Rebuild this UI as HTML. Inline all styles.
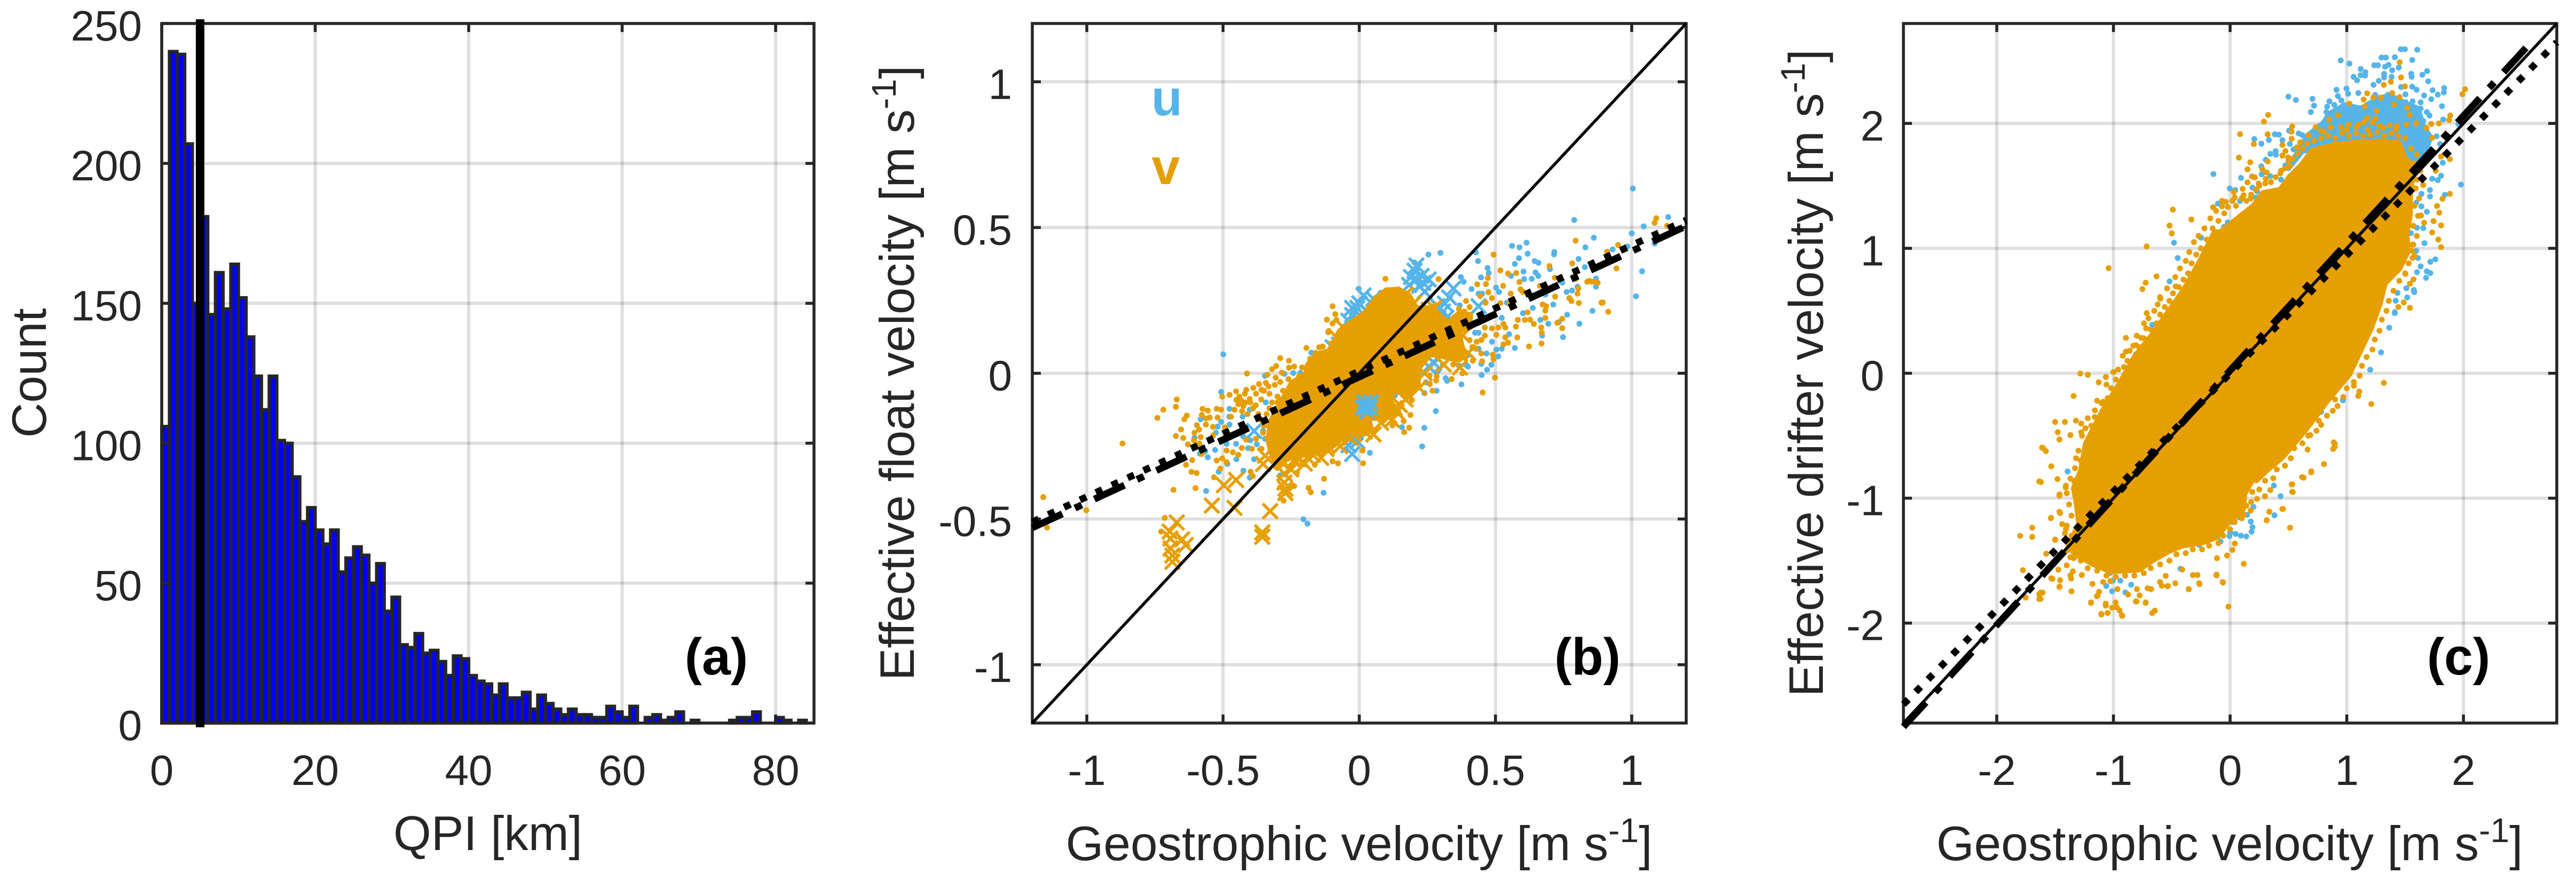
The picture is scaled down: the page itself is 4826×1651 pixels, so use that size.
<!DOCTYPE html>
<html lang="en">
<head>
<meta charset="utf-8">
<title>QPI histogram and velocity scatter plots</title>
<style>
html,body{margin:0;padding:0;background:#fff;}
svg{display:block;position:absolute;left:0;top:0;}
text{font-family:"Liberation Sans",Arial,sans-serif;fill:#262626;}
.lab{font-size:91px;}
.sup{font-size:64px;}
.tick{font-size:80px;}
.pl{font-size:97px;font-weight:bold;fill:#000;text-anchor:middle;}
</style>
</head>
<body>
<svg id="fig" xmlns="http://www.w3.org/2000/svg" width="4826" height="1651" viewBox="0 0 4826 1651">
<rect width="4826" height="1651" fill="#fff"/>
<g id="panelA"></g>
<g id="panelB"></g>
<g id="panelC"></g>
<text class="lab" transform="translate(86,699) rotate(-90)" text-anchor="middle">Count</text>
<text class="lab" x="914" y="1593" text-anchor="middle">QPI [km]</text>
<text class="pl" x="1342" y="1264">(a)</text>
<text class="lab" transform="translate(1712,699) rotate(-90)" text-anchor="middle">Effective float velocity [m s<tspan class="sup" dy="-34">-1</tspan><tspan dy="34">]</tspan></text>
<text class="lab" x="2546" y="1612" text-anchor="middle">Geostrophic velocity [m s<tspan class="sup" dy="-34">-1</tspan><tspan dy="34">]</tspan></text>
<text class="pl" x="2974" y="1264">(b)</text>
<text x="2186" y="216" style="font-size:95px;font-weight:bold;fill:#56B4E9" text-anchor="middle">u</text>
<text x="2184" y="345" style="font-size:95px;font-weight:bold;fill:#E69F00" text-anchor="middle">v</text>
<text class="lab" transform="translate(3415,699) rotate(-90)" text-anchor="middle">Effective drifter velocity [m s<tspan class="sup" dy="-34">-1</tspan><tspan dy="34">]</tspan></text>
<text class="lab" x="4177" y="1612" text-anchor="middle">Geostrophic velocity [m s<tspan class="sup" dy="-34">-1</tspan><tspan dy="34">]</tspan></text>
<text class="pl" x="4606" y="1264">(c)</text>
</svg>
<script>
// ---------- Panel (a) data ----------
const qpiCounts = [106,240,239,207,150,181,146,161,148,164,152,138,124,112,124,101,100,88,72,77,69,64,69,54,59,63,60,50,57,40,45,28,27,32,25,26,22,17,24,23,17,15,14,10,14,9,9,11,5,10,7,5,3,5,3,3,2,2,6,4,2,6,0,2,3,1,2,4,0,1,0,0,0,0,1,2,2,4,0,0,2,1,0,1,0];
const qpiBinWidth = 1;
const qpiThreshold = 5;
const aXTicks = [0,20,40,60,80];
const aYTicks = [0,50,100,150,200,250];

// ---------- Panel (b) data ----------
const bXTicks = [-1,-0.5,0,0.5,1];
const bYTicks = [-1,-0.5,0,0.5,1];
const bUnityX = [-1.2,1.2];
const bUnityY = [-1.2,1.2];
const bDotFitX = [-1.2,1.2];
const bDotFitY = [-0.51,0.525];
const bDashFitX = [-1.2,1.2];
const bDashFitY = [-0.53,0.505];
const bBlueDots = [[.789,.526],[.861,.465],[.830,.432],[.614,.448],[.561,.437],[.588,.432],[.618,.410],[.586,.395],[.571,.375],[.644,.385],[.658,.379],[.716,.416],[.715,.408],[.805,.392],[.828,.364],[.700,.357],[.603,.349],[.647,.346],[.657,.334],[.557,.334],[.605,.323],[.633,.324],[.447,.329],[.471,.361],[.475,.344],[.436,.385],[.428,.415],[.254,.407],[.298,.413],[.203,.380],[.373,.330],[.383,.314],[.412,.289],[.502,.294],[.513,.279],[.438,.273],[.451,.273],[.869,.325],[.869,.297],[.745,.311],[.761,.279],[.781,.284],[.801,.297],[.712,.236],[.683,.270],[.637,.224],[.601,.206],[.542,.242],[.763,.201],[.856,.214],[.808,.170],[.694,.170],[.665,.183],[.748,.124],[.671,.129],[.571,.087],[.550,.134],[.523,.190],[.487,.108],[.503,.081],[.523,.084],[.510,.058],[.485,.029],[.469,.012],[.449,-.006],[.448,.032],[.399,.023],[.392,.029],[.366,.026],[.399,.062],[.438,.084],[.467,.068],[.317,-.017],[.322,-.026],[.375,-.038],[.281,-.130],[.239,-.187],[.157,-.185],[.231,-.251],[.245,-.031],[.284,-.060],[.239,-.068],[.288,.007],[.307,.029],[.369,.233],[.078,.276],[-.002,.290],[.438,.139],[.425,.139],[.732,.175],
[-.499,.065],[-.507,-.064],[-.476,-.122],[-.582,-.158],[-.507,-.167],[-.476,-.176],[-.520,-.183],[-.526,-.204],[-.605,-.222],[-.580,-.253],[-.565,-.268],[-.585,-.276],[-.556,-.288],[-.529,-.263],[-.487,-.242],[-.452,-.242],[-.426,-.217],[-.400,-.230],[-.376,-.244],[-.346,-.225],[-.353,-.198],[-.408,-.257],[-.386,-.295],[-.425,-.334],[-.402,-.358],[-.516,-.338],[-.484,-.311],[-.451,-.295],[-.562,-.404],[-.290,-.350],[-.205,-.501],[-.190,-.516],[-.131,-.410],[.039,-.273],[-.176,.071],[-.180,.042],[-.242,.001],[-.216,.001],[-.275,-.002],[-.346,-.009],[-.477,-.149],[-.428,-.149],[-.402,-.125],[-.343,-.100],[.131,-.076],
[1.134,.536],[1.004,.634],[1.044,.504],[1.0,.480],[.984,.435],[.93,.425],[1.084,.445],[1.038,.350],[1.016,.264]];
const bOrangeDots = [[-.869,-.241],[-.741,-.153],[-.719,-.125],[-.673,-.115],[-.670,-.090],[-.642,-.158],[-.633,-.145],[-.654,-.193],[-.673,-.215],[-.646,-.222],[-.682,-.400],[-.601,-.394],[-.616,-.338],[-.597,-.342],[-.636,-.314],[-.613,-.298],[-.629,-.244],[-.605,-.204],[-.607,-.230],[-.587,-.241],[-.582,-.219],[-.596,-.178],[-.588,-.193],[-.578,-.277],[-.533,-.357],[-.575,-.122],[-.556,-.128],[-.523,-.122],[-.507,-.125],[-.578,-.143],[-.562,-.155],[-.549,-.152],[-.563,-.176],[-.520,-.152],[-.537,-.184],[-.503,-.080],[-.476,-.074],[-.452,-.062],[-.415,-.057],[-.412,-.001],[-.389,-.050],[-.368,-.037],[-.343,-.033],[-.320,.014],[-.305,.025],[-.290,.052],[-.258,.043],[-.239,.023],[-.258,.019],[-.284,.002],[-.337,-.005],[-.194,.087],[-.147,.089],[-.134,.092],[-.114,.141],[-.433,-.094],[-.451,-.091],[-.418,-.100],[-.402,-.088],[-.458,-.125],[-.444,-.106],[-.471,-.149],[-.425,-.112],[-.379,-.070],[-.359,-.057],[-.333,-.045],[-.307,-.015],[-.536,-.213],[-.493,-.186],[-.415,-.228],[-.379,-.225],[-.431,-.256],[-.394,-.259],[-.359,-.259],[-.353,-.204],[-.487,-.265],[-.464,-.271],[-.444,-.280],[-.523,-.299],[-.487,-.305],[-.503,-.292],[-.510,-.327],[-.399,-.338],[-.391,-.353],[-.278,-.437],[-.186,-.393],[-.178,-.408],[-.129,-.362],[.012,-.265],[.014,-.309],[.122,-.178],[-.239,-.387],[-.714,-.496],[-.727,-.543],[-.229,-.341],[-.163,-.314],[-.098,-.302],[-.078,-.309],
[-.44,-.08],[-.42,-.07],[-.40,-.10],[-.38,-.11],[-.36,-.09],[-.35,-.06],[-.33,-.07],[-.31,-.04],[-.29,-.03],[-.28,-.06],[-.26,-.02],[-.41,-.14],[-.39,-.12],[-.43,-.13],[-.30,-.08],[-.32,-.10],
[-.30,-.10],[-.28,-.12],[-.31,-.13],[-.34,-.14],[-.33,-.12],[-.30,-.15],[-.27,-.08],[-.25,-.05],[-.24,-.03],[-.22,-.01],[-.21,.02],[-.18,.05],[-.16,.07],[-.37,-.14],[-.36,-.16],[-.35,-.18],
[.794,.455],[.493,.407],[.698,.368],[.782,.377],[.518,.353],[.546,.342],[.576,.344],[.472,.327],[.433,.305],[.465,.306],[.528,.300],[.718,.328],[.794,.324],[.588,.313],[.592,.288],[.601,.279],[.663,.300],[.804,.291],[.801,.273],[.771,.258],[.779,.248],[.806,.241],[.837,.314],[.854,.314],[.875,.310],[.889,.242],[.719,.263],[.673,.236],[.686,.230],[.683,.215],[.683,.190],[.745,.187],[.727,.173],[.745,.155],[.641,.169],[.627,.184],[.608,.183],[.618,.209],[.582,.183],[.575,.160],[.580,.123],[.623,.092],[.669,.102],[.670,.139],[.668,.157],[.556,.273],[.518,.241],[.551,.239],[.487,.258],[.474,.278],[.444,.265],[.392,.248],[.405,.227],[.464,.242],[.366,.221],[.386,.212],[.366,.187],[.529,.169],[.510,.157],[.536,.157],[.487,.154],[.461,.157],[.503,.132],[.536,.123],[.461,.129],[.448,.114],[.431,.108],[.405,.114],[.415,.090],[.428,.084],[.546,.105],[.529,.099],[.448,.068],[.490,.064],[.493,.048],[.417,.043],[.451,.041],[.389,.053],[.366,.047],[.345,.030],[.498,-.015],[.379,.000],[.339,-.020],[.453,-.066],[.258,-.008],[.284,-.011],[.282,-.025],[.259,-.037],[.269,-.060],[.193,-.092],[.188,-.143],[.163,-.164],[.122,-.179],[.183,-.187],[.165,-.202],[.291,.323],[.096,.324],[-.098,.230],[-.088,.203],[-.119,.184],[-.084,.183],[-.098,.171],[-.112,.145],
[1.09,.532],[1.084,.516],[1.13,.506],[.95,.44],[.91,.417],[.944,.36],[.894,.243],[.914,.211],[.868,.313],[.844,.317],[-1.16,-.425],[-1.002,-.47],[-1.146,-.529]];
const bBlueCrosses = [[.203,.352],[.229,.334],[.235,.310],[.209,.322],[.255,.322],[.183,.303],[.016,.267],[-.026,.224],[-.026,.200],[-.007,.187],[.020,.181],[-.007,.224],[.052,.255],[.346,.291],[.314,.239],[.307,.212],[.288,.230],[.438,.230],[.275,.035],[.255,.023],[-.033,-.191],[-.013,-.203],[-.052,-.216],[-.026,-.277],[-.039,-.247],[-.007,-.234],[-.088,.080],[-.098,.089],[-.075,.098],[-.386,-.198],[.22,.30],[.19,.33],[.24,.28],[.21,.37],[.00,.24],[-.04,.18],[-.01,.15],[.03,.21],[.03,.15],[.32,.19],[.29,.19],[.33,.26]];
const bBlueCrossesTop = [[.026,-.115],[.042,-.100],[.026,-.112],[.013,-.118],[.039,-.118],[.03,-.13],[.02,-.10]];
const bOrangeCrosses = [[-.670,-.512],[-.696,-.543],[-.693,-.567],[-.650,-.570],[-.637,-.589],[-.693,-.601],[-.686,-.625],[-.686,-.647],[-.497,-.384],[-.452,-.366],[-.541,-.454],[-.458,-.462],[-.327,-.473],[-.356,-.546],[-.356,-.561],[-.353,-.311],[-.346,-.283],[-.275,-.375],[-.271,-.396],[-.271,-.411],[-.275,-.344],[-.222,-.295],[-.190,-.289],[-.118,-.247],[-.033,-.222],[.052,-.210],[.098,-.143],[.124,.267],[.098,.212],[-.052,.151],[.137,-.133],[.111,-.148],[.052,-.209],[-.085,.084],[.150,.255],[.255,.218],[.275,.224],
[.08,.24],[.02,.17],[-.03,.13],[-.08,.12],[.17,.27],[.20,.24],[.33,.15],[.38,.13],[.40,.07],[.37,.02],[.31,.03],[.24,.0],[.22,-.05],[.17,-.09],[.13,-.12],[.08,-.17],[.02,-.2],[-.02,-.21],[-.07,-.25],[-.12,-.26],[-.17,-.28],[-.24,-.30],[-.29,-.30],[-.31,-.25],[-.32,-.2],[-.28,-.1],[-.23,-.06],[-.2,-.03],[.12,-.16],[.15,-.11],[-.20,-.31],[-.14,-.29],[-.25,-.33]];
const bOrangeDense = [[-.327,-.167],[-.248,-.033],[-.196,-.002],[-.190,.028],[-.157,.065],[-.111,.077],[-.072,.145],[-.039,.169],[.020,.206],[.059,.255],[.098,.285],[.144,.288],[.183,.267],[.209,.224],[.255,.224],[.288,.200],[.327,.175],[.366,.206],[.408,.200],[.405,.157],[.366,.145],[.373,.108],[.386,.059],[.353,.047],[.301,.059],[.261,.065],[.216,.016],[.216,-.038],[.183,-.081],[.131,-.057],[.111,-.093],[.144,-.130],[.092,-.154],[.033,-.154],[.046,-.197],[.013,-.209],[-.033,-.198],[-.092,-.247],[-.144,-.271],[-.222,-.283],[-.268,-.295],[-.301,-.326],[-.327,-.259],[-.333,-.234]];

// ---------- Panel (c) data ----------
const cXTicks = [-2,-1,0,1,2];
const cYTicks = [-2,-1,0,1,2];
const cUnityX = [-2.8,2.8];
const cUnityY = [-2.8,2.8];
const cDotFitX = [-2.8,2.8];
const cDotFitY = [-2.65,2.65];
const cDashFitX = [-2.8,2.56];
const cDashFitY = [-2.83,2.63];
const cBlueDense = [[.802,2.006],[.848,2.077],[.985,2.148],[1.122,2.120],[1.274,2.205],[1.381,2.219],[1.503,2.162],[1.610,2.120],[1.655,1.977],[1.716,1.892],[1.655,1.70],[1.534,1.70],[1.351,1.75],[1.046,1.75],[.832,1.80],[.62,1.78],[.50,1.64],[.66,1.90]];
const cBlueDots = [[1.463,2.594],[1.498,2.594],[1.604,2.590],[1.412,2.530],[1.297,2.527],[1.335,2.527],[1.561,2.508],[.948,2.504],[1.023,2.479],[1.236,2.466],[1.267,2.466],[1.328,2.454],[1.358,2.469],[1.445,2.447],[1.389,2.426],[1.119,2.436],[1.160,2.409],[1.119,2.386],[1.058,2.373],[1.088,2.345],[1.157,2.383],[1.320,2.397],[1.320,2.368],[1.384,2.373],[1.553,2.397],[1.556,2.373],[1.648,2.390],[1.689,2.419],[1.698,2.337],[1.274,2.341],[1.229,2.309],[1.465,2.291],[1.561,2.294],[1.598,2.269],[1.735,2.266],[1.835,2.283],[1.832,2.248],[1.780,2.231],[1.663,2.224],[1.724,2.194],[1.816,2.138],[.912,2.269],[.997,2.279],[1.012,2.238],[1.099,2.243],[.500,2.214],[.564,2.188],[.706,2.197],[.719,2.142],[.692,2.091],[.924,2.219],[.851,2.177],[.832,2.134],[.825,2.091],[.893,2.148],[.954,2.184],[1.244,2.228],[1.351,2.228],[1.503,2.233],[1.633,2.169],[1.633,2.119],[1.686,2.091],[1.709,2.063],[1.655,2.020],[1.826,2.031],[1.957,1.996],[1.595,2.027],[1.564,2.177],[1.503,2.170],
[.588,1.920],[.619,1.906],[.383,1.913],[.418,1.910],[.207,1.875],[.268,1.838],[.332,1.868],[.448,1.866],[.390,1.778],[.345,1.756],[.393,1.749],[.306,1.709],[.268,1.657],[.271,1.593],[.093,1.564],[-.143,1.595],[-.003,1.479],[.044,1.467],[.192,1.486],[.230,1.457],[-.105,1.358],[.505,1.942],[.512,1.835],[.543,1.792],[.566,1.735],[.474,1.664],[.345,1.578],[.436,1.550],[.223,1.407],[.085,1.379],[-.052,1.172],[-.120,1.122],[-.021,1.208],
[1.854,1.892],[1.770,1.897],[1.694,1.869],[1.800,1.835],[1.823,1.685],[1.808,1.581],[1.780,1.546],[1.732,1.557],[1.979,1.510],[1.713,1.467],[1.713,1.415],[1.640,1.436],[1.595,1.365],[1.640,1.336],[1.686,1.293],[1.841,1.429],[1.655,1.162],[1.602,1.165],[1.666,1.041],[1.716,.892],[1.759,.912],[1.633,.856],[1.602,.809],[1.686,.816],[1.716,.802],[1.680,.764],[1.579,.650],[1.518,.607],[1.610,.923],[1.595,.980],[1.549,1.122],[1.511,.681],[1.419,.581],[1.412,.489],
[1.575,.667],[1.435,.643],[1.411,.481],[1.364,.365],[1.294,.167],[1.201,.028],[1.037,.039],[.967,-.216],[.780,-.309],
[-.481,1.045],[-.449,.922],[-.248,1.085],[-.519,.736],[-.374,.667],[-.668,.388],[-.808,.151],[-.832,.109],[-.925,-.077],
[.024,-1.190],[.078,-1.154],[.146,-1.133],[.177,-1.187],[.192,-1.232],[.184,-1.268],[.139,-1.306],[.093,-1.300],[.047,-1.286],[.002,-1.275],[-.006,-1.303],[.200,-1.069],[.433,-.984],[.380,-1.137],[.375,-.899],[-.082,-1.346],[-.265,-1.374],[-.509,-1.416],[-.425,-1.565],[-.848,-1.693],[-1.005,-1.660],[-.941,-1.660],[-1.061,-1.703],[-1.012,-1.745],[-.898,-1.754],[-1.027,-1.598],[-1.149,-1.537],[-1.393,-.786]];
const cOrangeDots = [[1.453,2.490],[1.465,2.368],[1.378,2.333],[1.317,2.309],[1.498,2.296],[1.389,2.243],[1.175,2.241],[1.229,2.209],[1.293,2.205],[1.453,2.211],[1.145,2.191],[1.023,2.158],[1.155,2.136],[1.405,2.152],[1.518,2.126],[1.255,2.100],[1.538,2.068],[.924,2.065],[1.175,2.044],[1.244,2.037],[.848,2.030],[1.145,2.008],[1.221,2.006],[1.595,2.001],[1.511,1.991],[1.724,1.996],[1.790,2.000],[1.877,2.027],[1.887,2.063],[2.014,2.274],[1.991,2.234],[.326,2.068],[.290,2.014],[.532,1.977],[.085,1.914],[.322,1.913],[.203,1.835],[.527,1.934],[.672,1.906],[.733,1.970],[.802,1.934],[.863,1.970],[1.015,1.991],[1.084,1.970],[1.312,1.966],[1.369,1.984],[1.431,1.980],[1.683,1.963],[1.732,1.885],[.527,1.877],[.601,1.849],[.573,1.809],[.448,1.828],[.474,1.778],[.448,1.742],[.497,1.728],[.075,1.726],[.322,1.696],[.172,1.689],[.276,1.635],[.314,1.607],[.149,1.632],[.188,1.575],[.212,1.568],[.306,1.557],[.149,1.528],[.245,1.518],[.108,1.476],[.032,1.450],[.040,1.407],[.116,1.425],[.177,1.400],[-.037,1.372],[-.070,1.336],[-.146,1.329],[.436,1.621],[.512,1.657],[1.884,1.436],[1.820,1.397],[1.773,1.339],[1.793,1.286],[1.744,1.218],[1.808,1.184],[1.732,1.127],[1.785,1.070],[1.808,1.009],[1.636,1.262],[1.663,1.205],[1.884,1.714],[1.808,1.735],[1.762,1.621],[1.655,1.507],[1.572,.752],[1.503,.795],[1.541,.717],[1.541,.524],[1.442,.531],[1.488,.567],[1.564,.923],[1.564,1.030],[1.556,.980],
[-.491,1.310],[-.519,1.182],[-.500,1.120],[-.332,1.231],[-.715,1.015],[-1.042,.841],[-.631,.776],[-.724,.725],[-.752,.674],[-.467,.695],[-.598,.597],[-.715,.481],[-.621,.551],[-.738,.400],[-.893,.283],[-.762,.283],[-.808,.225],[-.893,.174],[-1.285,-.002],[-1.220,-.012],[-1.065,-.030],[-1.126,-.072],[-.995,-.158],[-1.341,-.181],[-1.089,-.228],[-1.159,-.297],[-1.500,-.390],[-1.416,-.390],[-1.322,-.379],[-1.276,-.402],[-1.369,-.495],[-1.603,-.599],[-1.579,-.623],[-1.463,-.530],[-1.276,-.472],
[1.318,-.077],[1.210,-.246],[1.107,-.146],[1.098,-.181],[1.061,-.100],[.897,-.564],[.883,-.606],[.687,-.495],[.921,-.262],[.780,-.413],
[-1.612,-.595],[-1.533,-.745],[-1.636,-.866],[-1.477,-.472],[-1.407,-.900],[-1.537,-1.160],[-1.696,-1.236],[-1.799,-1.301],[-1.696,-1.310],[-1.500,-1.333],[-1.463,-1.109],[-1.463,-.981],[-1.369,-.843],[-1.407,-1.248],[-1.776,-1.576],[-1.636,-1.769],[-1.636,-1.808],[-1.752,-1.796],[-1.463,-1.711],[-1.533,-1.641],[-1.472,-1.572],[-1.360,-1.745],[-1.369,-1.618],[-1.192,-1.838],[-1.136,-1.780],[-1.103,-1.931],[-1.051,-1.919],[-.925,-1.942],[-1.065,-1.861],[-.972,-1.873],[-.808,-1.826],[-.724,-1.838],[-.668,-1.919],[-.645,-1.900],[-.355,-1.729],[-.537,-1.704],[-.262,-1.688],[-.117,-1.618],[-.061,-1.676],[-.014,-1.868],[.117,-1.525],[.514,-1.236],[.313,-1.178],[.336,-1.109],[.453,-1.086],[.537,-.951],[.533,-.889],[.617,-.831],[.696,-.785],[.804,-.727],[.664,-.611],[.888,-.553],[.897,-.588],
[-.113,-1.480],[-.026,-1.459],[-.116,-1.612],[-.063,-1.671],[.020,-1.414],[.040,-1.363],[-.354,-1.728],[-.265,-1.681],[-.470,-1.681],[-.532,-1.703],[-.585,-1.700],[-.319,-1.615],[-.280,-1.615],[-.410,-1.572],[-.552,-1.622],[-.677,-1.728],[-.723,-1.834],[-.802,-1.827],[-.776,-1.778],[-.875,-1.771],[-.966,-1.728],[-.982,-1.834],[-1.012,-1.877],[-1.104,-1.926],[-1.049,-1.919],[-.928,-1.936],[-.948,-1.898],[-1.066,-1.844],[-1.192,-1.834],[-1.142,-1.785],[-1.123,-1.749],[-1.360,-1.745],[-1.462,-1.707],[-1.457,-1.657],[-1.523,-1.646],[-1.363,-1.643],[-1.347,-1.586],[-1.401,-1.537],[-1.370,-1.473],[-1.180,-1.686],[-1.271,-1.615],[-1.088,-1.671],[-1.027,-1.664],[-.707,-1.721],[-.799,-1.728],[-.601,-1.671],[.314,-1.176],[.337,-1.108],[.448,-1.086],[.532,-.949],[.527,-.890],[.630,-.836],[.695,-.793],[.116,-1.133],[.177,-1.098],[.299,-.984],[.230,-1.006],[.345,-.935],[-1.534,-1.157],[-1.457,-1.119],[-1.439,-1.208],[-1.416,-1.282],[-1.462,-.970],[-1.409,-.914],[-1.480,-.847],[-1.622,-.871],[-1.500,-1.331],[-1.576,-1.445],[-1.607,-1.756],[-1.625,-1.806],[-1.625,-1.756]];
const cOrangeFringe = [[-1.30,-.62],[-1.27,-.50],[-1.24,-.44],[-1.19,-.42],[-1.16,-.35],[-1.22,-.36],[-1.10,-.24],[-1.14,-.22],[-1.05,-.20],[-1.02,-.12],[-1.06,-.09],[-.98,-.05],[-.96,.03],[-1.0,.01],[-.91,.05],[-.88,.10],[-.92,.14],[-.86,.18],[-.83,.22],[-.78,.21],[-.80,.30],[-.74,.28],[-.72,.36],[-.68,.35],[-.70,.44],[-.63,.40],[-.60,.47],[-.65,.50],[-.56,.53],[-.60,.61],[-.52,.58],[-.49,.64],[-.54,.68],[-.44,.69],[-.47,.77],[-.40,.75],[-.43,.84],[-.36,.80],[-.38,.90],[-.33,.88],[-.35,.97],[-.29,.95],[-.31,1.05],[-.25,1.00],[-.27,1.10],[-.20,1.07],[-.22,1.16],[-.15,1.16],[-.17,1.24],[-.10,1.22],[-.12,1.30],[-.05,1.28],[-.02,1.33],[-.07,1.38],[.02,1.38],[.05,1.34],[.10,1.40],[.14,1.38],[.18,1.43],[.22,1.47],[.25,1.50],[.30,1.52],[.35,1.53],[.39,1.57],[.43,1.60],[.47,1.64],[.50,1.70],[.54,1.72],[.58,1.76],[.62,1.80],[.66,1.84],
[.72,1.86],[.78,1.88],[.84,1.90],[.90,1.88],[.96,1.92],[1.02,1.90],[1.08,1.92],[1.14,1.90],[1.20,1.91],[1.26,1.93],[1.32,1.90],[1.38,1.92],[1.44,1.90],[1.50,1.88],[.95,1.97],[1.00,1.95],[1.10,1.99],[1.18,1.95],[1.28,1.98],[1.42,1.95],[.78,1.94],[1.55,1.80],[1.60,1.75],[1.58,1.68],[1.63,1.62],[1.60,1.55],[1.59,1.48],[1.62,1.40],[1.58,1.34],[1.61,1.26],[1.57,1.18],[1.60,1.10],[1.57,1.03],[1.58,.94],[1.53,.88],[1.50,.80],[1.45,.74],[1.40,.66],[1.36,.58],[1.34,.50],[1.30,.43],[1.28,.34],[1.24,.27],[1.22,.19],[1.17,.13],[1.13,.06],[1.11,-.02],[1.06,-.07],[1.00,-.12],[.97,-.19],[.90,-.21],[.88,-.30],[.83,-.34],[.76,-.38],[.74,-.46],[.67,-.50],[.62,-.56],[.55,-.60],[.52,-.68],[.47,-.74],[.40,-.77],[.37,-.84],[.30,-.86],
[.25,-.93],[.19,-.95],[.18,-1.03],[.14,-1.06],[.10,-1.16],[.04,-1.19],[.0,-1.25],[-.06,-1.30],[-.10,-1.36],[-.18,-1.38],[-.24,-1.41],[-.32,-1.41],[-.38,-1.44],[-.46,-1.45],[-.52,-1.50],[-.60,-1.53],[-.68,-1.56],[-.74,-1.60],[-.82,-1.62],[-.90,-1.62],[-.98,-1.63],[-1.06,-1.62],[-1.14,-1.58],[-1.22,-1.56],[-1.28,-1.50],[-1.34,-1.48],[-1.40,-1.42],[-1.36,-1.30],[-1.40,-1.22],[-1.36,-1.14],[-1.38,-1.05],[-1.40,-.96],[-1.34,-.86],[-1.33,-.76],[-1.32,-.68],[-1.28,-.70]];
const cOrangeDense = [[.45,-.66],[.3,-.78],[.223,-.850],[.192,-.836],[.116,-.963],[.101,-1.091],[-.037,-1.204],[-.113,-1.303],[-.235,-1.346],[-.418,-1.374],[-.524,-1.416],[-.662,-1.487],[-.784,-1.565],[-1.027,-1.579],[-1.180,-1.516],[-1.317,-1.445],[-1.378,-1.388],[-1.287,-1.204],[-1.309,-1.034],[-1.332,-.921],[-1.271,-.779],[-1.229,-.564],[-1.089,-.309],[-.949,-.100],[-.808,.132],[-.668,.295],[-.528,.481],[-.388,.667],[-.248,.899],[-.128,1.122],[-.082,1.122],[.207,1.336],[.284,1.436],[.436,1.464],[.512,1.564],[.619,1.664],[.710,1.778],[.893,1.821],[1.046,1.835],[1.274,1.849],[1.442,1.835],[1.488,1.721],[1.549,1.664],[1.549,1.550],[1.534,1.407],[1.534,1.265],[1.503,1.123],[1.518,.980],[1.442,.838],[1.320,.724],[1.274,.553],[1.201,.365],[1.014,-.007],[.827,-.216],[.640,-.448]];

// ---------- Drawing ----------
const SVGNS = 'http://www.w3.org/2000/svg';
const INK = '#262626';
const BLUE = '#56B4E9';
const ORANGE = '#E69F00';
const DOT_R = 5.5;
const CROSS_ARM = 14;

function make(tag, parent, props) {
  const el = document.createElementNS(SVGNS, tag);
  for (const key in props) el.setAttribute(key, props[key]);
  parent.appendChild(el);
  return el;
}
function scale(d0, d1, p0, p1) {
  return function (v) { return p0 + (v - d0) * (p1 - p0) / (d1 - d0); };
}

function drawGrid(g, box, sx, sy, xTicks, yTicks) {
  xTicks.forEach(function (t) {
    const l = make('line', g, {x1: sx(t), x2: sx(t), y1: box.top, y2: box.bottom, stroke: 'rgba(38,38,38,0.15)', 'stroke-width': 6});
    
    
  });
  yTicks.forEach(function (t) {
    const l = make('line', g, {x1: box.left, x2: box.right, y1: sy(t), y2: sy(t), stroke: 'rgba(38,38,38,0.15)', 'stroke-width': 6});
    
    
  });
}

function drawAxes(g, box, sx, sy, xTicks, yTicks, yLabelRight) {
  const tickLen = 16;
  const frame = make('rect', g, {x: box.left, y: box.top, width: box.right - box.left, height: box.bottom - box.top, fill: 'none', stroke: INK, 'stroke-width': 5.5});
  
  
  xTicks.forEach(function (t) {
    const a = make('line', g, {x1: sx(t), x2: sx(t), y1: box.bottom, y2: box.bottom - tickLen, stroke: INK, 'stroke-width': 5.5});
    
    
    const b = make('line', g, {x1: sx(t), x2: sx(t), y1: box.top, y2: box.top + tickLen, stroke: INK, 'stroke-width': 5.5});
    
    
    const lab = make('text', g, {x: sx(t), y: 1471, 'text-anchor': 'middle', 'class': 'tick'});
    
    
    lab.textContent = String(t);
  });
  yTicks.forEach(function (t) {
    const a = make('line', g, {x1: box.left, x2: box.left + tickLen, y1: sy(t), y2: sy(t), stroke: INK, 'stroke-width': 5.5});
    
    
    const b = make('line', g, {x1: box.right, x2: box.right - tickLen, y1: sy(t), y2: sy(t), stroke: INK, 'stroke-width': 5.5});
    
    
    const lab = make('text', g, {x: yLabelRight, y: sy(t) + 32, 'text-anchor': 'end', 'class': 'tick'});
    
    
    lab.textContent = String(t);
  });
}

function drawDots(g, pts, sx, sy, color, name) {
  const group = make('g', g, {fill: color});
  
  
  pts.forEach(function (p) {
    const c = make('circle', group, {cx: sx(p[0]), cy: sy(p[1]), r: DOT_R});
    
    
  });
}

function drawCrosses(g, pts, sx, sy, color, name) {
  const group = make('g', g, {stroke: color, 'stroke-width': 5.5, fill: 'none'});
  
  
  pts.forEach(function (p) {
    const x = sx(p[0]), y = sy(p[1]), a = CROSS_ARM;
    const c = make('path', group, {d: 'M' + (x - a) + ' ' + (y - a) + 'L' + (x + a) + ' ' + (y + a) + 'M' + (x - a) + ' ' + (y + a) + 'L' + (x + a) + ' ' + (y - a)});
    
    
  });
}

function drawDense(g, pts, sx, sy, color, width, name) {
  const d = pts.map(function (p, i) { return (i ? 'L' : 'M') + sx(p[0]) + ' ' + sy(p[1]); }).join('') + 'Z';
  const el = make('path', g, {d: d, fill: color, stroke: color, 'stroke-width': width, 'stroke-linejoin': 'round'});
  
  
}

function drawLine(g, xs, ys, sx, sy, width, dash, name) {
  const props = {x1: sx(xs[0]), y1: sy(ys[0]), x2: sx(xs[1]), y2: sy(ys[1]), stroke: '#000', 'stroke-width': width};
  if (dash) props['stroke-dasharray'] = dash;
  const el = make('line', g, props);
  
  
}

// Panel (a)
(function () {
  const g = document.getElementById('panelA');
  const box = {left: 303, right: 1525, top: 44, bottom: 1355};
  const sx = scale(0, 85, box.left, box.right);
  const sy = scale(0, 250, box.bottom, box.top);
  drawGrid(g, box, sx, sy, aXTicks, aYTicks);
  const bars = make('g', g, {fill: '#0000ff', stroke: INK, 'stroke-width': 6});
  
  
  qpiCounts.forEach(function (n, i) {
    const x0 = sx(i * qpiBinWidth), x1 = sx((i + 1) * qpiBinWidth);
    const r = make('rect', bars, {x: x0, y: sy(n), width: x1 - x0, height: sy(0) - sy(n)});
    
    
  });
  drawAxes(g, box, sx, sy, aXTicks, aYTicks, 266);
  const th = make('line', g, {x1: sx(qpiThreshold), x2: sx(qpiThreshold), y1: sy(251.5), y2: sy(-1.5), stroke: '#000', 'stroke-width': 16});
  
  
})();

// Panel (b)
(function () {
  const g = document.getElementById('panelB');
  const box = {left: 1934, right: 3159, top: 44, bottom: 1355};
  const sx = scale(-1.2, 1.2, box.left, box.right);
  const sy = scale(-1.2, 1.2, box.bottom, box.top);
  drawGrid(g, box, sx, sy, bXTicks, bYTicks);
  drawDots(g, bBlueDots, sx, sy, BLUE, 'u-float-points');
  drawCrosses(g, bBlueCrosses, sx, sy, BLUE, 'u-float-crosses');
  drawDots(g, bOrangeDots, sx, sy, ORANGE, 'v-float-points');
  drawDense(g, bOrangeDense, sx, sy, ORANGE, 10, 'v-float-dense-cloud');
  drawCrosses(g, bBlueCrossesTop, sx, sy, BLUE, 'u-float-crosses-over-cloud');
  drawCrosses(g, bOrangeCrosses, sx, sy, ORANGE, 'v-float-crosses');
  drawAxes(g, box, sx, sy, bXTicks, bYTicks, 1896);
  drawLine(g, bUnityX, bUnityY, sx, sy, 5.5, null, 'one-to-one-line');
  drawLine(g, bDotFitX, bDotFitY, sx, sy, 13, '13 19.8', 'u-fit-dotted-line');
  drawLine(g, bDashFitX, bDashFitY, sx, sy, 13, '62 26 14 26', 'v-fit-dashdot-line');
})();

// Panel (c)
(function () {
  const g = document.getElementById('panelC');
  const box = {left: 3566, right: 4790, top: 44, bottom: 1355};
  const sx = scale(-2.8, 2.8, box.left, box.right);
  const sy = scale(-2.8, 2.8, box.bottom, box.top);
  drawGrid(g, box, sx, sy, cXTicks, cYTicks);
  drawDense(g, cBlueDense, sx, sy, BLUE, 10, 'u-drifter-dense-cloud');
  drawDots(g, cBlueDots, sx, sy, BLUE, 'u-drifter-points');
  drawDots(g, cOrangeDots, sx, sy, ORANGE, 'v-drifter-points');
  drawDots(g, cOrangeFringe, sx, sy, ORANGE, 'v-drifter-fringe-points');
  drawDense(g, cOrangeDense, sx, sy, ORANGE, 14, 'v-drifter-dense-cloud');
  drawAxes(g, box, sx, sy, cXTicks, cYTicks, 3530);
  drawLine(g, cUnityX, cUnityY, sx, sy, 5.5, null, 'one-to-one-line');
  drawLine(g, cDotFitX, cDotFitY, sx, sy, 13, '13 19.8', 'u-fit-dotted-line');
  drawLine(g, cDashFitX, cDashFitY, sx, sy, 13, '62 26 14 26', 'v-fit-dashdot-line');
})();
</script>
</body>
</html>
